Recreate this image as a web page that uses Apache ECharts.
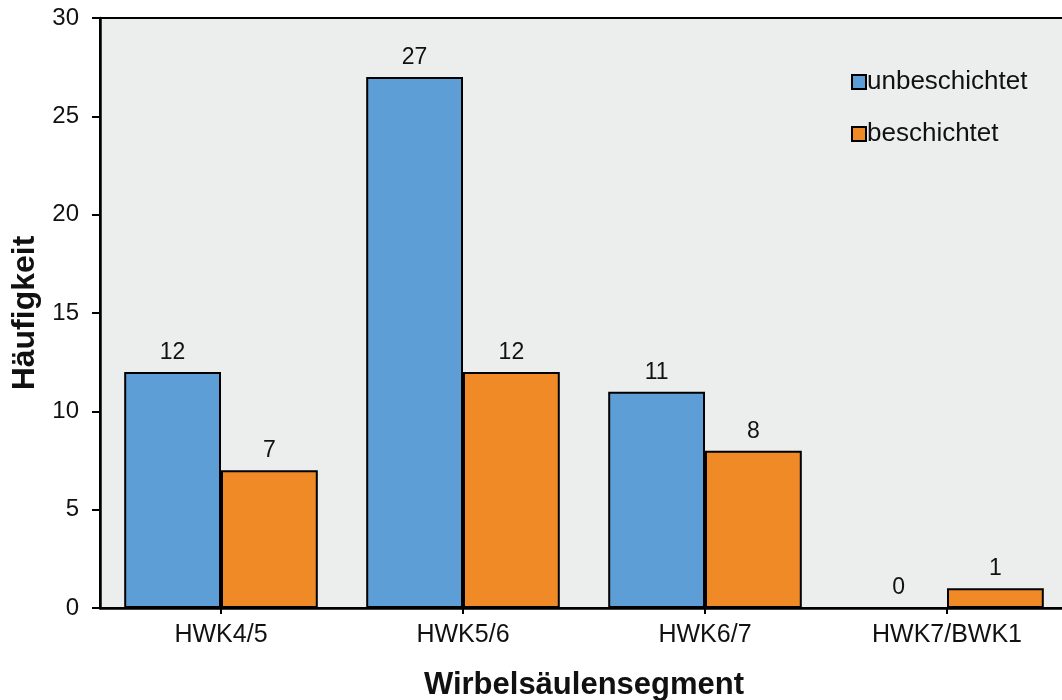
<!DOCTYPE html>
<html>
<head>
<meta charset="utf-8">
<script src="https://cdn.jsdelivr.net/npm/echarts@6/dist/echarts.min.js"></script>
<style>
  html, body { margin: 0; padding: 0; background: #ffffff; }
  #chart { width: 1062px; height: 700px; }
</style>
</head>
<body>
<div id="chart"></div>
<script>
// Segment categories and counts per group
const segments = ['HWK4/5', 'HWK5/6', 'HWK6/7', 'HWK7/BWK1'];
const unbeschichtet = [12, 27, 11, 0];
const beschichtet = [7, 12, 8, 1];
const seriesNames = ['unbeschichtet', 'beschichtet'];

const FONT = '"Liberation Sans", Arial, sans-serif';

const chart = echarts.init(document.getElementById('chart'), null, { renderer: 'canvas' });

const labelStyle = {
  show: true,
  position: 'top',
  distance: 8,
  color: '#111',
  fontSize: 23,
  fontFamily: FONT
};

chart.setOption({
  animation: false,
  backgroundColor: '#ffffff',
  grid: {
    left: 100,
    top: 18,
    width: 968,
    bottom: 92,
    outerBoundsMode: 'none',
    containLabel: false,
    show: true,
    backgroundColor: '#eceeed',
    borderColor: '#000',
    borderWidth: 2
  },
  legend: {
    orient: 'vertical',
    left: 846,
    top: 64,
    itemWidth: 14,
    itemHeight: 14,
    itemGap: 26,
    icon: 'rect',
    data: seriesNames,
    textStyle: { fontSize: 26, color: '#111', fontFamily: FONT, padding: [0, 0, 0, -4] }
  },
  xAxis: {
    type: 'category',
    data: segments,
    name: 'Wirbelsäulensegment',
    nameLocation: 'middle',
    nameGap: 62,
    nameTextStyle: { fontSize: 31, fontWeight: 'bold', color: '#111', fontFamily: FONT },
    axisLine: { lineStyle: { color: '#000', width: 2.5 } },
    axisTick: { show: true, alignWithLabel: true, length: 6, lineStyle: { color: '#000', width: 2 } },
    axisLabel: { fontSize: 25, color: '#111', fontFamily: FONT, margin: 15 },
    splitLine: { show: false }
  },
  yAxis: {
    type: 'value',
    min: 0,
    max: 30,
    interval: 5,
    name: 'Häufigkeit',
    nameLocation: 'middle',
    nameGap: 54,
    nameTextStyle: { fontSize: 32, fontWeight: 'bold', color: '#111', fontFamily: FONT },
    axisLine: { show: true, lineStyle: { color: '#000', width: 2.5 } },
    axisTick: { show: true, inside: false, length: 8, lineStyle: { color: '#000', width: 2 } },
    axisLabel: { fontSize: 24, color: '#111', fontFamily: FONT, margin: 21 },
    splitLine: { show: false }
  },
  series: [
    {
      name: seriesNames[0],
      type: 'bar',
      data: unbeschichtet,
      barGap: '0%',
      barCategoryGap: '20%',
      itemStyle: { color: '#5e9ed6', borderColor: '#000', borderWidth: 2 },
      label: labelStyle
    },
    {
      name: seriesNames[1],
      type: 'bar',
      data: beschichtet,
      barGap: '0%',
      barCategoryGap: '20%',
      itemStyle: { color: '#ef8a26', borderColor: '#000', borderWidth: 2 },
      label: labelStyle
    }
  ]
});
</script>
</body>
</html>
